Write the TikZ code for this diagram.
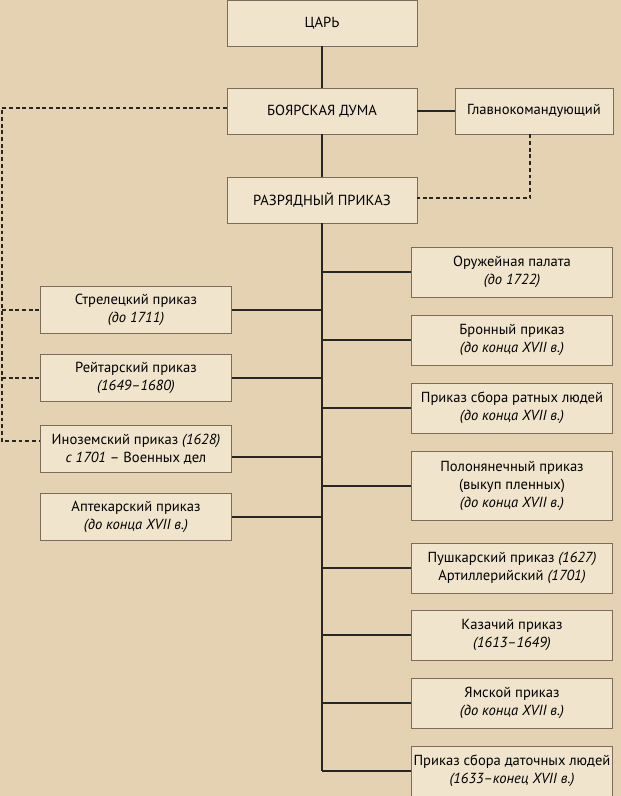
\documentclass[tikz,border=0pt]{standalone}
\usepackage{fontspec}
\setmainfont{PT Sans}
\usetikzlibrary{positioning}
\definecolor{parch}{HTML}{E5D2B2}
\definecolor{boxfill}{HTML}{F0E4CD}
\definecolor{boxline}{HTML}{7D6C5C}
\tikzset{
  unit/.style={draw=boxline,fill=boxfill,line width=0.5pt,align=center,inner sep=1pt,
    font=\fontsize{8.3}{10.2}\selectfont},
  topbox/.style={unit,minimum width=3.8cm,minimum height=0.92cm},
  rbox/.style={unit,minimum width=4.02cm,minimum height=1cm},
  lbox/.style={unit,minimum width=3.82cm,minimum height=0.95cm},
  link/.style={draw=black!85,line width=0.6pt},
  dlink/.style={draw=black!85,line width=0.6pt,dashed,dash pattern=on 2.2pt off 1.6pt}
}
\begin{document}
\begin{tikzpicture}[x=0.02cm,y=-0.02cm]
\fill[parch] (0,0) rectangle (621,796);
\useasboundingbox (0,0) rectangle (621,796);
% central chain
\node[topbox] (tsar) at (322,23) {ЦАРЬ};
\node[topbox] (duma) at (322,111) {БОЯРСКАЯ ДУМА};
\node[unit,minimum width=3.16cm,minimum height=0.92cm] (glav) at (534,111) {Главнокомандующий};
\node[topbox] (razr) at (322,200) {РАЗРЯДНЫЙ ПРИКАЗ};
% right column
\node[rbox] (oruzh) at (512,272) {Оружейная палата\\\textit{(до 1722)}};
\node[rbox] (bron) at (512,340) {Бронный приказ\\\textit{(до конца XVII в.)}};
\node[rbox] (ratn) at (512,408) {Приказ сбора ратных людей\\\textit{(до конца XVII в.)}};
\node[rbox,minimum height=1.38cm] (polon) at (512,486) {Полонянечный приказ\\(выкуп пленных)\\\textit{(до конца XVII в.)}};
\node[rbox] (push) at (512,568) {Пушкарский приказ \textit{(1627)}\\Артиллерийский \textit{(1701)}};
\node[rbox] (kaz) at (512,635) {Казачий приказ\\\textit{(1613--1649)}};
\node[rbox] (yam) at (512,703) {Ямской приказ\\\textit{(до конца XVII в.)}};
\node[rbox] (datoch) at (512,771) {Приказ сбора даточных людей\\\textit{(1633--конец XVII в.)}};
% left column
\node[lbox] (strel) at (136,310) {Стрелецкий приказ\\\textit{(до 1711)}};
\node[lbox] (reit) at (136,378) {Рейтарский приказ\\\textit{(1649--1680)}};
\node[lbox] (inoz) at (136,449) {Иноземский приказ \textit{(1628)}\\\textit{с 1701} -- Военных дел};
\node[lbox] (apt) at (136,517) {Аптекарский приказ\\\textit{(до конца XVII в.)}};
% trunk
\coordinate (bottom) at (322,771);
\draw[link] (tsar) -- (duma);
\draw[link] (duma) -- (razr);
\draw[link] (duma) -- (glav);
\draw[link] (razr.south) -- (bottom);
\foreach \n in {oruzh,bron,ratn,polon,push,kaz,yam,datoch}
  \draw[link] (\n.west) -- (\n.west -| razr.south);
\foreach \n in {strel,reit,apt}
  \draw[link] (\n.east) -- (\n.east -| razr.south);
\draw[link] (inoz.east) ++(0,8) -- (322,457);
% dashed links
\coordinate (dl) at (2,108);
\draw[dlink] (duma.west |- dl) -- (dl) -- (2,441) -- (inoz.west |- 0,441);
\draw[dlink] (2,310) -- (strel.west);
\draw[dlink] (2,378) -- (reit.west);
\draw[dlink] (glav.south -| 530,0) -- (530,198) -- (razr.east |- 0,198);
\end{tikzpicture}
\end{document}
